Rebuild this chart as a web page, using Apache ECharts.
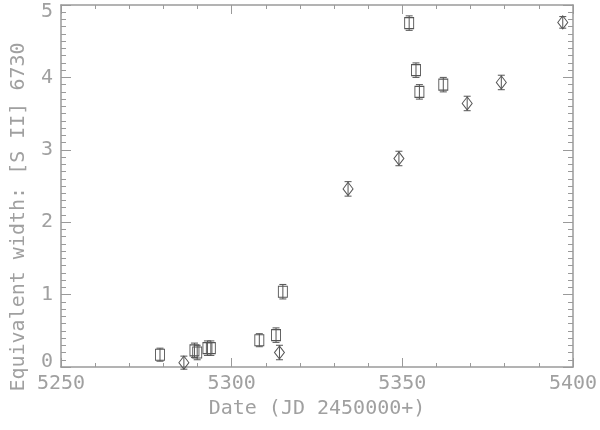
<!DOCTYPE html>
<html>
<head>
<meta charset="utf-8">
<script src="https://cdn.jsdelivr.net/npm/echarts@6/dist/echarts.min.js"></script>
<style>
  html, body { margin: 0; padding: 0; background: #fff; }
  #chart { width: 600px; height: 430px; }
</style>
</head>
<body>
<div id="chart"></div>
<script>
// squares
const sqDate = [5279.0, 5289.1, 5289.9, 5292.9, 5293.9, 5308.1, 5313.0, 5315.0, 5352.0, 5354.0, 5355.0, 5362.0];
const sqWidth = [0.17, 0.23, 0.20, 0.26, 0.26, 0.37, 0.44, 1.04, 4.75, 4.10, 3.80, 3.90];
const sqErr = [0.09, 0.10, 0.10, 0.10, 0.10, 0.09, 0.10, 0.10, 0.10, 0.10, 0.10, 0.10];
// diamonds
const dmDate = [5286.0, 5314.0, 5334.1, 5349.0, 5369.0, 5379.0, 5397.0];
const dmWidth = [0.06, 0.20, 2.46, 2.88, 3.64, 3.93, 4.76];
const dmErr = [0.09, 0.10, 0.10, 0.10, 0.10, 0.10, 0.08];

const xTicks = [5250, 5300, 5350, 5400];
const yTicks = [0, 1, 2, 3, 4, 5];

const axisGray = '#9a9a9a';
const textGray = '#a0a0a0';
const markGray = '#555';
const font = '"DejaVu Sans Mono", monospace';

const chart = echarts.init(document.getElementById('chart'));

// error bar rows: [x, low, high]
const errRows = sqDate.map((d, i) => [d, sqWidth[i] - sqErr[i], sqWidth[i] + sqErr[i]])
  .concat(dmDate.map((d, i) => [d, dmWidth[i] - dmErr[i], dmWidth[i] + dmErr[i]]));

function errorBar(params, api) {
  const lo = api.coord([api.value(0), api.value(1)]);
  const hi = api.coord([api.value(0), api.value(2)]);
  const cap = 3.5;
  const style = { stroke: markGray, lineWidth: 1, fill: null };
  return {
    type: 'group',
    children: [
      { type: 'line', shape: { x1: lo[0], y1: lo[1], x2: hi[0], y2: hi[1] }, style },
      { type: 'line', shape: { x1: lo[0] - cap, y1: lo[1], x2: lo[0] + cap, y2: lo[1] }, style },
      { type: 'line', shape: { x1: hi[0] - cap, y1: hi[1], x2: hi[0] + cap, y2: hi[1] }, style }
    ]
  };
}

// y labels: nudge the end ones inward like the original
function yLabel(v) {
  if (!yTicks.includes(v)) return '';
  if (v === yTicks[yTicks.length - 1]) return '{top|' + v + '}';
  if (v === yTicks[0]) return '{bot|' + v + '}';
  return String(v);
}

const tickStyle = { color: axisGray, width: 1 };
const lineStyle = { color: axisGray, width: 1.5 };
const labelText = { color: textGray, fontSize: 20, fontFamily: font };

const option = {
  animation: false,
  backgroundColor: '#fff',
  grid: { left: 61, right: 27, top: 5, bottom: 63, outerBoundsMode: 'none', containLabel: false },
  xAxis: [
    {
      type: 'value', min: 5250, max: 5400, interval: 50,
      name: 'Date (JD 2450000+)', nameLocation: 'middle', nameGap: 30,
      nameTextStyle: labelText,
      axisLine: { onZero: false, lineStyle },
      axisTick: { inside: true, length: 9, lineStyle: tickStyle },
      minorTick: { show: true, splitNumber: 5, length: 4, lineStyle: tickStyle },
      axisLabel: Object.assign({ margin: 7, formatter: v => xTicks.includes(v) ? String(v) : '' }, labelText),
      splitLine: { show: false }
    },
    {
      type: 'value', position: 'top', min: 5250, max: 5400, interval: 50,
      axisLine: { onZero: false, lineStyle },
      axisTick: { inside: true, length: 9, lineStyle: tickStyle },
      minorTick: { show: true, splitNumber: 5, length: 4, lineStyle: tickStyle },
      axisLabel: { show: false },
      splitLine: { show: false }
    }
  ],
  yAxis: [
    {
      type: 'value', min: 0, max: 5, interval: 1,
      name: 'Equivalent width: [S II] 6730', nameLocation: 'middle', nameGap: 32,
      nameTextStyle: Object.assign({ padding: [0, 62, 0, 0] }, labelText),
      axisLine: { show: true, onZero: false, lineStyle },
      axisTick: { show: true, inside: true, length: 10, lineStyle: tickStyle },
      minorTick: { show: true, splitNumber: 10, length: 5, lineStyle: tickStyle },
      axisLabel: Object.assign({
        margin: 8,
        formatter: yLabel,
        rich: {
          top: Object.assign({ padding: [14, 0, 0, 0] }, labelText),
          bot: Object.assign({ padding: [0, 0, 10, 0] }, labelText)
        }
      }, labelText),
      splitLine: { show: false }
    },
    {
      type: 'value', position: 'right', min: 0, max: 5, interval: 1,
      axisLine: { show: true, onZero: false, lineStyle },
      axisTick: { show: true, inside: true, length: 10, lineStyle: tickStyle },
      minorTick: { show: true, splitNumber: 10, length: 5, lineStyle: tickStyle },
      axisLabel: { show: false },
      splitLine: { show: false }
    }
  ],
  series: [
    {
      type: 'custom',
      renderItem: errorBar,
      data: errRows,
      encode: { x: 0, y: [1, 2] },
      z: 1
    },
    {
      type: 'scatter',
      symbol: 'rect',
      symbolSize: [9, 11],
      data: sqDate.map((d, i) => [d, sqWidth[i]]),
      itemStyle: { color: 'rgba(0,0,0,0)', borderColor: markGray, borderWidth: 1, opacity: 1 },
      z: 2
    },
    {
      type: 'scatter',
      symbol: 'diamond',
      symbolSize: [10, 13],
      data: dmDate.map((d, i) => [d, dmWidth[i]]),
      itemStyle: { color: 'rgba(0,0,0,0)', borderColor: markGray, borderWidth: 1, opacity: 1 },
      z: 2
    }
  ]
};

chart.setOption(option);
</script>
</body>
</html>
